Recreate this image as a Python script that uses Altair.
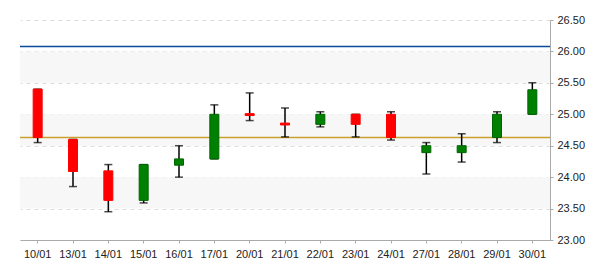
import altair as alt
import pandas as pd

dates = ["10/01", "13/01", "14/01", "15/01", "16/01", "17/01", "20/01", "21/01",
         "22/01", "23/01", "24/01", "27/01", "28/01", "29/01", "30/01"]
opens = [25.40, 24.60, 24.10, 23.63, 24.19, 24.29, 25.01, 24.86,
         24.84, 25.00, 25.00, 24.39, 24.39, 24.63, 25.00]
closes = [24.63, 24.09, 23.63, 24.20, 24.29, 25.00, 24.98, 24.83,
          25.00, 24.84, 24.63, 24.50, 24.50, 25.00, 25.39]
highs = [25.40, 24.60, 24.20, 24.20, 24.50, 25.15, 25.34, 25.10,
         25.04, 25.00, 25.04, 24.55, 24.69, 25.04, 25.50]
lows = [24.55, 23.85, 23.45, 23.59, 24.00, 24.29, 24.90, 24.64,
        24.80, 24.64, 24.59, 24.05, 24.24, 24.55, 25.00]

band_lo = [25.5, 24.5, 23.5]
band_hi = [26.0, 25.0, 24.0]
ref_levels = [26.08, 24.63]
ref_names = ["upper", "ref"]
y_ticks = [23.0, 23.5, 24.0, 24.5, 25.0, 25.5, 26.0, 26.5]

df = pd.DataFrame({"date": dates, "open": opens, "close": closes,
                   "high": highs, "low": lows})
df["dir"] = ["up" if c >= o else "down" for o, c in zip(opens, closes)]
bands = pd.DataFrame({"lo": band_lo, "hi": band_hi})
refs = pd.DataFrame({"v": ref_levels, "name": ref_names})

FONT = "Liberation Sans"
xenc = alt.X("date:N", sort=dates,
             scale=alt.Scale(paddingInner=0, paddingOuter=0),
             axis=alt.Axis(title=None, labelAngle=0, labelFont=FONT, labelFontSize=11,
                           labelColor="#222", domainColor="#aaa", tickColor="#aaa",
                           tickSize=3, labelPadding=5, grid=False))
yscale = alt.Scale(domain=[23.0, 26.5], nice=False, zero=False)
yaxis = alt.Axis(title=None, orient="right", values=y_ticks, format=".2f",
                 labelFont=FONT, labelFontSize=11, labelColor="#222", labelOverlap=False,
                 domainColor="#aaa", tickColor="#aaa", tickSize=3, labelPadding=4,
                 grid=True, gridColor="#dddddd", gridDash=[4, 4])


def Y(field):
    return alt.Y(field, scale=yscale, axis=yaxis)


bg = alt.Chart(bands).mark_rect(color="#f7f7f7").encode(
    x=alt.value(0), x2=alt.value("width"),
    y=Y("lo:Q"), y2="hi:Q")

lines = alt.Chart(refs).mark_rule(strokeWidth=1.5).encode(
    y=Y("v:Q"),
    color=alt.Color("name:N", scale=alt.Scale(domain=ref_names, range=["#0b4a9a", "#c9a02c"]),
                    legend=None))

base = alt.Chart(df)
wick = base.mark_rule(color="black", strokeWidth=1.5).encode(
    x=xenc, y=Y("low:Q"), y2="high:Q")
cap_hi = base.mark_tick(color="black", size=8, thickness=1.5, orient="horizontal").encode(
    x=xenc, y=Y("high:Q"))
cap_lo = base.mark_tick(color="black", size=8, thickness=1.5, orient="horizontal").encode(
    x=xenc, y=Y("low:Q"))
body = base.mark_bar(size=9, strokeWidth=1).encode(
    x=xenc, y=Y("open:Q"), y2="close:Q",
    fill=alt.Fill("dir:N", scale=alt.Scale(domain=["up", "down"], range=["#008000", "#ff0000"]),
                  legend=None),
    stroke=alt.Stroke("dir:N", scale=alt.Scale(domain=["up", "down"], range=["#006400", "#ff0000"]),
                      legend=None))

chart = alt.layer(bg, lines, wick, cap_hi, cap_lo, body).resolve_scale(
    color="independent").properties(
    width=530, height=220,
    padding={"left": 20, "top": 20, "right": 50, "bottom": 30},
    autosize=alt.AutoSizeParams(type="none"),
    background="white",
).configure_view(stroke=None)

chart.save("out.html", embed_options={"renderer": "svg", "actions": False})
